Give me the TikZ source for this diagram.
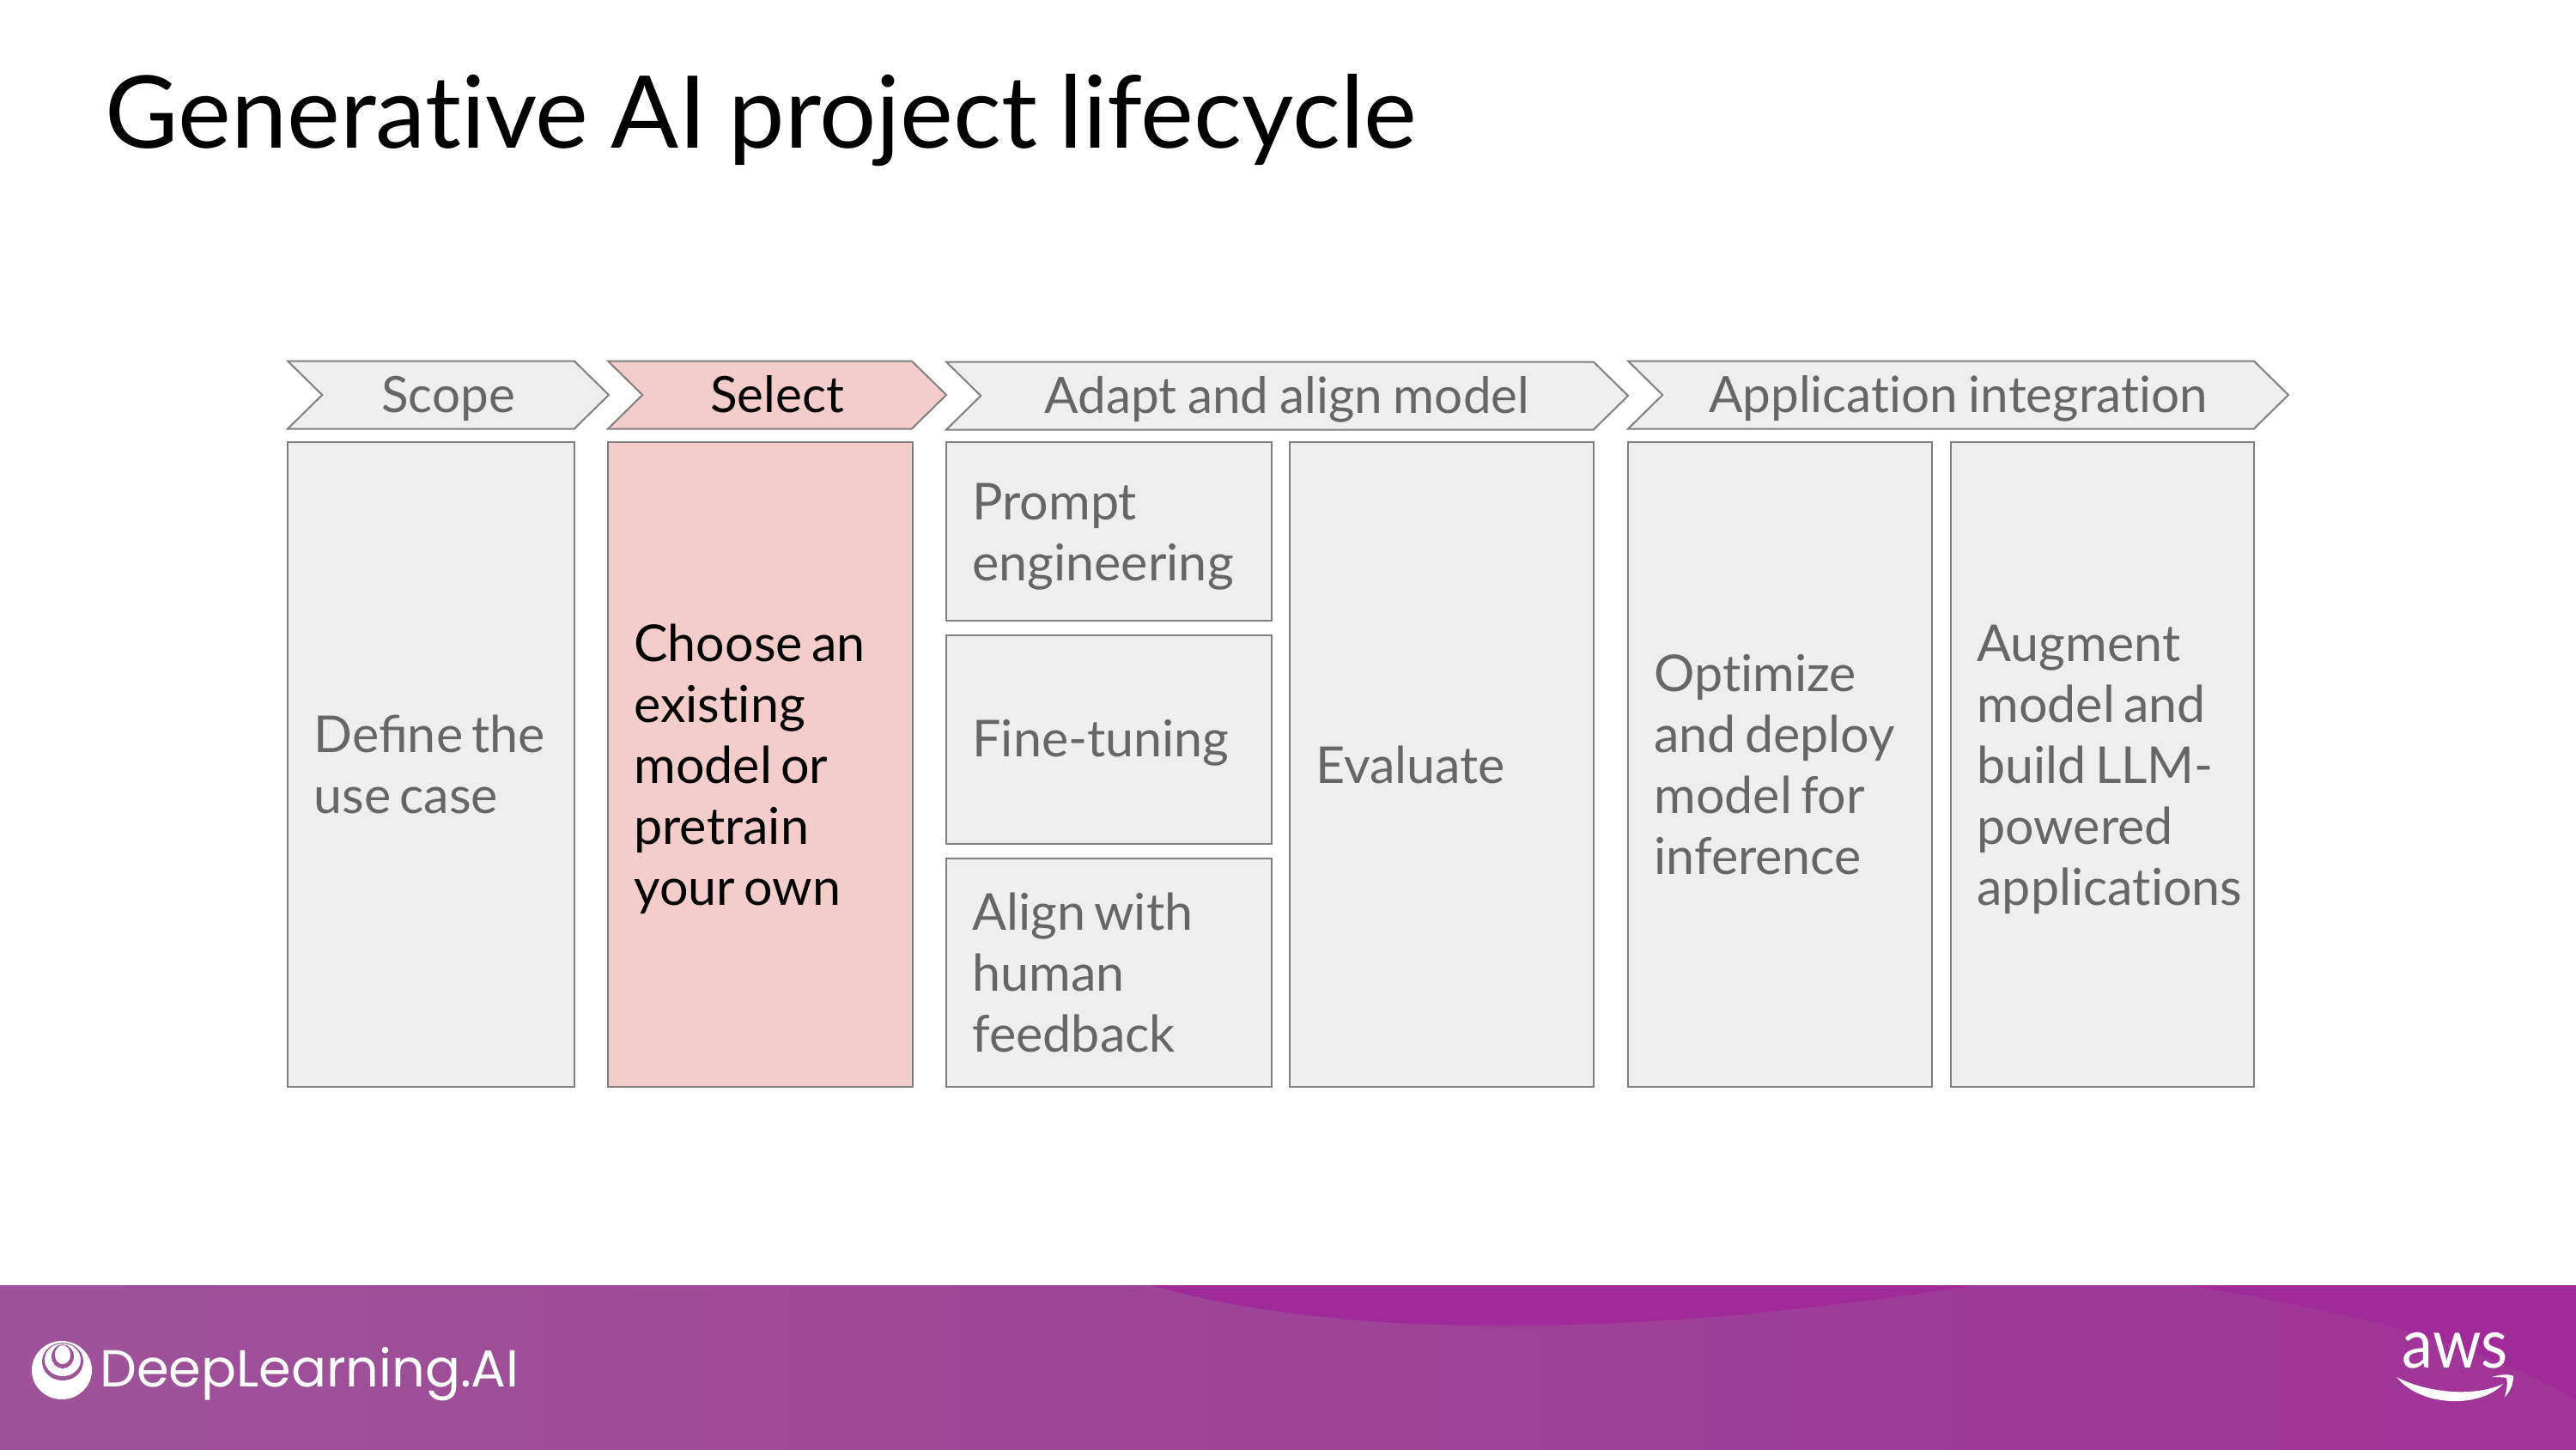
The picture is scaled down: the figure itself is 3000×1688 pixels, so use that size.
\documentclass[tikz,border=0pt]{standalone}
\usepackage{fontspec}
\setmainfont[Ligatures=NoCommon, WordSpace=0.85]{Lato}
\newfontfamily\logofont{Poppins}
\newfontfamily\awsfont[FakeStretch=0.9]{Lato}
\usetikzlibrary{shapes.symbols}
\definecolor{boxgray}{HTML}{EEEEEE}
\definecolor{boxpink}{HTML}{F4CCCC}
\definecolor{textgray}{HTML}{666666}
\definecolor{linegray}{HTML}{7F7F7F}
\definecolor{bandleft}{HTML}{9D5399}
\definecolor{bandright}{HTML}{A03497}
\definecolor{bandwave}{HTML}{A02A97}
\def\px{0.5pt}
\tikzset{
	cell/.style 2 args={draw=linegray, line width=1pt, fill=boxgray, text=textgray, anchor=north west,
		minimum width=#1*\px, minimum height=#2*\px, text width=#1*\px, inner sep=0pt, outer sep=0pt,
		align=left, font=\fontsize{29.6}{35.5}\selectfont,
		execute at begin node={\leftskip=15.2pt\spaceskip=0.17em\relax}},
	stage/.style={signal, signal from=west, signal to=east, signal pointer angle=89, draw=linegray, line width=1pt,
		fill=boxgray, text=textgray, minimum height=79*\px, inner sep=0pt, outer sep=0pt,
		text height=24pt, text depth=4pt, font=\fontsize{29.2}{35}\selectfont},
	active/.style={fill=boxpink, text=black}
}
\begin{document}
\begin{tikzpicture}[x=\px, y=-\px]
	\useasboundingbox (0, 0) rectangle (3000, 1688);
	\node[anchor=base west, inner sep=0pt, font=\fontsize{58.5}{70}\selectfont] (title) at (122, 172) {Generative AI project lifecycle};
	% stage headers
	\node[stage, minimum width=374*\px] (scope) at (522, 460) {Scope};
	\node[stage, active, minimum width=394*\px] (select) at (905, 460) {Select};
	\node[stage, minimum width=794*\px] (adapt) at (1499, 461) {Adapt and align model};
	\node[stage, minimum width=769*\px] (integration) at (2280.5, 460) {Application integration};
	% columns below the headers, some first lines carry a taller strut
	\node[cell={334}{751}] (define) at (335, 515) {\addfontfeatures{Ligatures=Common}Define the\\use case};
	\node[cell={355}{751}, active] (choose) at (708, 515) {\rule{0pt}{27.5pt}Choose an\\existing\\model or\\pretrain\\your own};
	\node[cell={379}{208}] (prompt) at (1102, 515) {\rule{0pt}{27.3pt}Prompt\\engineering};
	\node[cell={379}{243}] (finetune) at (1102, 740) {\rule{0pt}{25.3pt}Fine-tuning};
	\node[cell={379}{266}] (align) at (1102, 1000) {Align with\\human\\feedback};
	\node[cell={354}{751}] (evaluate) at (1502, 515) {Evaluate};
	\node[cell={354}{751}] (optimize) at (1896, 515) {Optimize\\and deploy\\model for\\inference};
	\node[cell={353}{751}] (augment) at (2272, 515) {\rule{0pt}{27.3pt}Augment\\model and\\build LLM-\\powered\\applications};
	% footer band and its darker wave
	\fill[left color=bandleft, right color=bandright] (0, 1497) rectangle (3000, 1688);
	\fill[bandwave] (1340, 1497) .. controls (1560, 1560) and (1900, 1560) .. (2300, 1497) -- cycle;
	\fill[bandwave] (2545, 1497) .. controls (2720, 1525) and (2880, 1560) .. (3000, 1630) -- (3000, 1497) -- cycle;
	% logo rings
	\fill[white] (72, 1596) ellipse (35 and 34);
	\fill[bandleft] (73, 1586) ellipse (24 and 22);
	\fill[white] (73, 1584) ellipse (21 and 19);
	\fill[bandleft] (73, 1580) ellipse (13 and 14);
	\fill[white] (73, 1578) ellipse (9 and 11);
	\node[anchor=base west, inner sep=0pt, text=white, font=\logofont\fontsize{30.3}{34}\selectfont] (deeplearning) at (116, 1615) {DeepLearning.AI};
	% aws mark
	\node[anchor=base, inner sep=0pt, text=white, font=\awsfont\fontsize{40}{48}\selectfont] (aws) at (2859, 1593) {aws};
	\fill[white] (2791, 1604) .. controls (2825, 1622) and (2880, 1628) .. (2915, 1612) .. controls (2890, 1640) and (2820, 1640) .. (2791, 1604) -- cycle;
	\fill[white] (2902, 1604) .. controls (2912, 1601) and (2922, 1600) .. (2927, 1603) .. controls (2927, 1612) and (2923, 1622) .. (2917, 1627) .. controls (2919, 1619) and (2921, 1611) .. (2919, 1605) .. controls (2915, 1604) and (2908, 1604) .. (2902, 1604) -- cycle;
\end{tikzpicture}
\end{document}
